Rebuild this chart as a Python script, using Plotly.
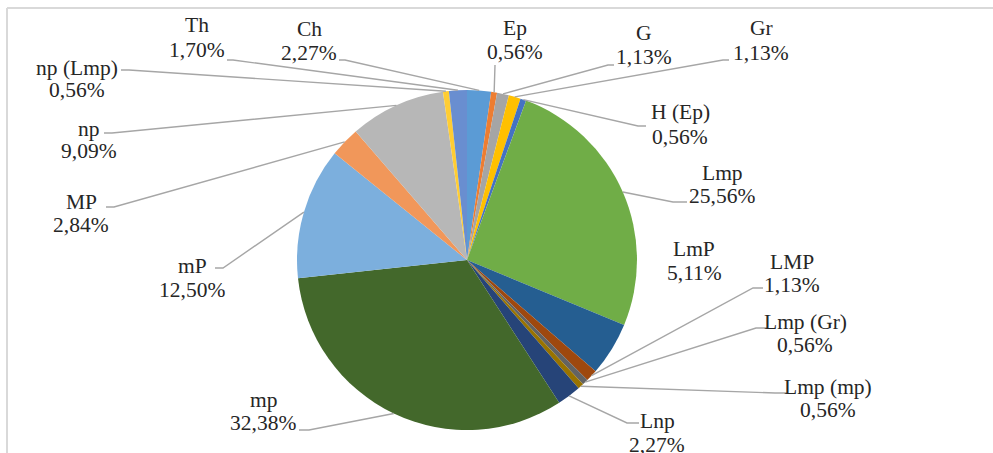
import math
import plotly.graph_objects as go

# ---------------- data ----------------
labels = ["Ch", "Ep", "G", "Gr", "H (Ep)", "Lmp", "LmP", "LMP", "Lmp (Gr)",
          "Lmp (mp)", "Lnp", "mp", "mP", "MP", "np", "np (Lmp)", "Th"]
values = [2.27, 0.56, 1.13, 1.13, 0.56, 25.56, 5.11, 1.13, 0.56,
          0.56, 2.27, 32.38, 12.50, 2.84, 9.09, 0.56, 1.70]
colors = ["#5B9BD5", "#ED7D31", "#A5A5A5", "#FFC000", "#4472C4", "#70AD47",
          "#255E91", "#9E480E", "#636363", "#997300", "#264478", "#43682B",
          "#7CAFDD", "#F1975A", "#B7B7B7", "#FFCD33", "#698ED0"]

# ---------------- layout geometry (pixels) ----------------
W, H = 993, 453
CX, CY, R = 467, 260, 170

# label placement: center x, y of line 1, y of line 2, leader attach x, y, stub length
label_pos = {
    "Ch":       (309, 29, 53, 339, 60, 6),
    "Ep":       (515, 28, 52, 495, 65, 0),
    "G":        (644, 33, 57, 614, 65, -6),
    "Gr":       (761, 28, 53, 729, 60, -6),
    "H (Ep)":   (680, 112, 137, 646, 126, -8),
    "Lmp":      (722, 173, 196, 687, 202, -14),
    "LmP":      (694, 249, 273, None, None, 0),
    "LMP":      (792, 262, 285, 763, 288, -10),
    "Lmp (Gr)": (805, 322, 345, 768, 328, -12),
    "Lmp (mp)": (828, 387, 410, 787, 393, -12),
    "Lnp":      (657, 421, 445, 639, 423, -12),
    "mp":       (263, 400, 423, 299, 430, 10),
    "mP":       (192, 266, 290, 215, 268, 8),
    "MP":       (81, 202, 225, 106, 207, 8),
    "np":       (89, 129, 151, 104, 133, 8),
    "np (Lmp)": (77, 68, 90, 121, 70, 8),
    "Th":       (197, 25, 50, 227, 60, 6),
}

def px(x):
    return x / W

def py(y):
    return 1 - y / H

FAMILY = "Liberation Serif"
TEXT_COL = "#262626"

fig = go.Figure()
fig.add_trace(go.Pie(
    labels=labels, values=values, sort=False, direction="clockwise", rotation=0,
    marker=dict(colors=colors, line=dict(width=0)),
    textinfo="none", hoverinfo="label+percent", showlegend=False,
    domain=dict(x=[px(CX - R), px(CX + R)], y=[py(CY + R), py(CY - R)]),
))

total = sum(values)
annotations = []
shapes = []
cum = 0.0
font = dict(family=FAMILY, size=21.5, color=TEXT_COL)
line_col = "#A6A6A6"
for lab, v in zip(labels, values):
    mid = (cum + v / 2) / total * 2 * math.pi
    cum += v
    ex = CX + R * math.sin(mid)
    ey = CY - R * math.cos(mid)
    lx, y1, y2, ax, ay, stub = label_pos[lab]
    pct = f"{v:.2f}".replace(".", ",") + "%"
    annotations.append(dict(x=px(lx), y=py(y1), xref="paper", yref="paper", text=lab,
                            showarrow=False, font=font, xanchor="center", yanchor="middle"))
    annotations.append(dict(x=px(lx), y=py(y2), xref="paper", yref="paper", text=pct,
                            showarrow=False, font=font, xanchor="center", yanchor="middle"))
    if ax is not None:
        path = f"M {px(ex)} {py(ey)} L {px(ax + stub)} {py(ay)} L {px(ax)} {py(ay)}"
        shapes.append(dict(type="path", path=path, xref="paper", yref="paper",
                           line=dict(color=line_col, width=1.4)))

# chart frame (top and left edges visible)
shapes.append(dict(type="line", xref="paper", yref="paper", x0=px(7), x1=1, y0=py(8), y1=py(8),
                   line=dict(color="#D9D9D9", width=2)))
shapes.append(dict(type="line", xref="paper", yref="paper", x0=px(7), x1=px(7), y0=py(8), y1=0,
                   line=dict(color="#D9D9D9", width=2)))

fig.update_layout(
    width=W, height=H, margin=dict(l=0, r=0, t=0, b=0),
    font=dict(family=FAMILY, size=20, color=TEXT_COL),
    paper_bgcolor="white", plot_bgcolor="white",
    annotations=annotations, shapes=shapes,
)
fig.write_html("out.html", config={"displayModeBar": False},
               post_script="document.body.style.margin='0';document.body.style.overflow='hidden';")
